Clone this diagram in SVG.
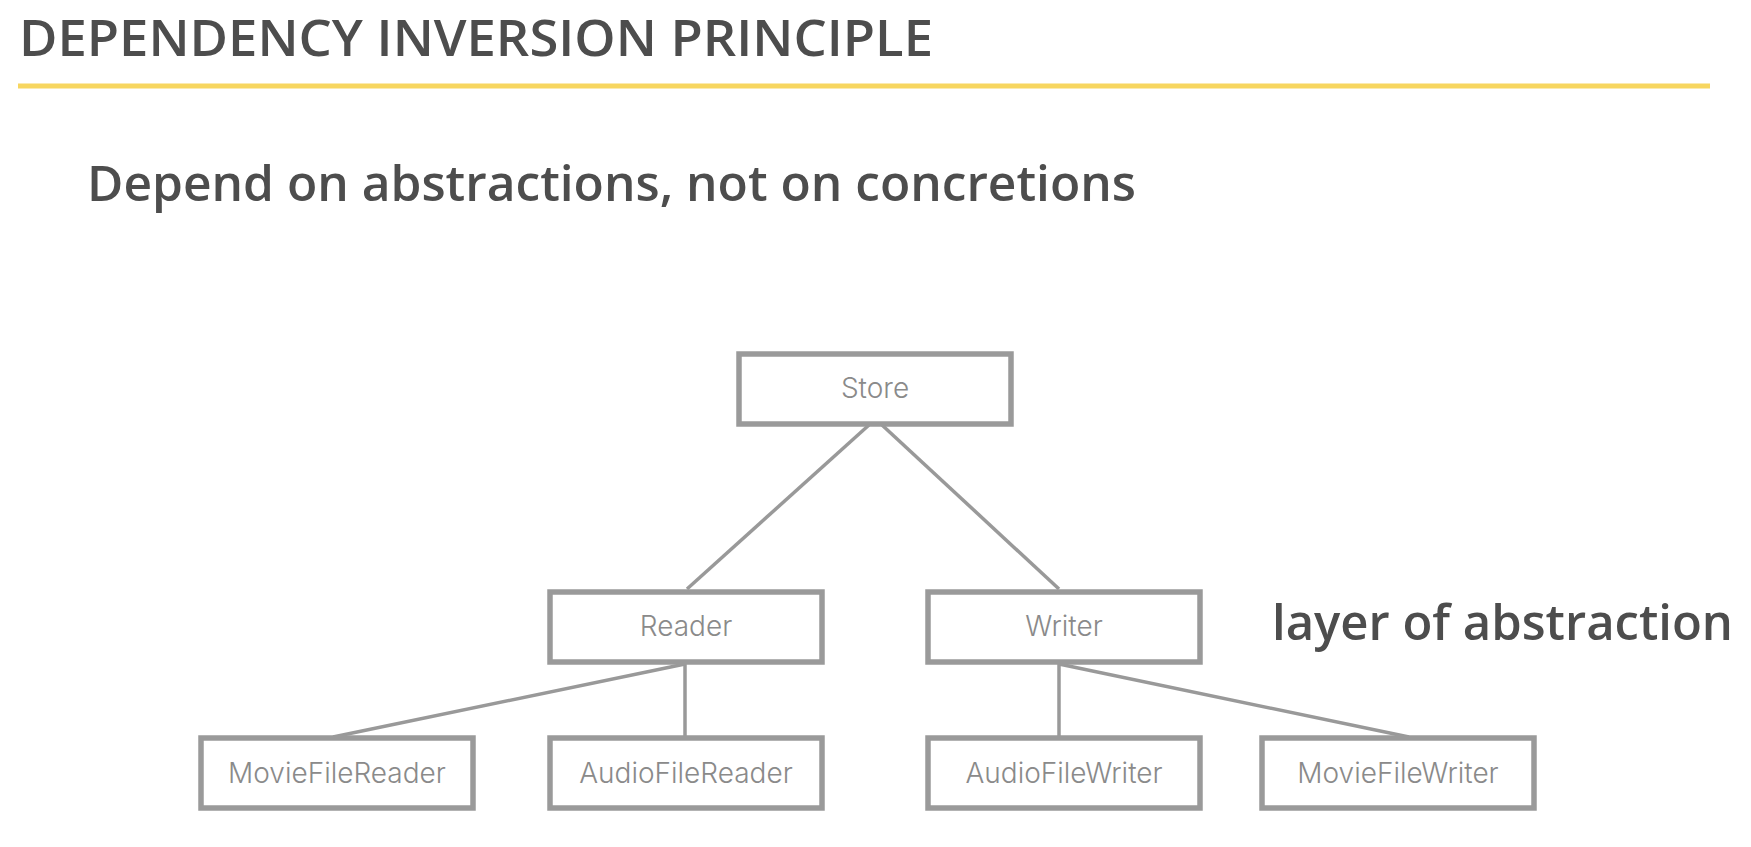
<svg xmlns="http://www.w3.org/2000/svg" width="1751" height="847" viewBox="0 0 1751 847">
<style>
.h{font-family:"Open Sans",Lato,"Liberation Sans",sans-serif;fill:#4d4d4d;font-weight:600}
.box{fill:#fff;stroke:#9a9a9a;stroke-width:5.5}
.lbl{font-family:Inter,Lato,"Liberation Sans",sans-serif;fill:#8a8a8a;font-size:28px;font-weight:300;text-anchor:middle}
.ln{stroke:#999;stroke-width:3.5;fill:none}
</style>
<rect width="1751" height="847" fill="#fff"/>
<text class="h" x="19" y="56" font-size="50" textLength="914" lengthAdjust="spacingAndGlyphs">DEPENDENCY INVERSION PRINCIPLE</text>
<line x1="18" y1="86" x2="1710" y2="86" stroke="#f7d660" stroke-width="5"/>
<text class="h" x="87" y="201" font-size="49" textLength="1049" lengthAdjust="spacingAndGlyphs">Depend on abstractions, not on concretions</text>
<text class="h" x="1272" y="640" font-size="49" textLength="461" lengthAdjust="spacingAndGlyphs">layer of abstraction</text>
<g id="connectors">
<line class="ln" x1="869" y1="425" x2="687" y2="589"/>
<line class="ln" x1="882" y1="425" x2="1059" y2="589"/>
<line class="ln" x1="685" y1="664" x2="333" y2="737"/>
<line class="ln" x1="685" y1="664" x2="685" y2="737"/>
<line class="ln" x1="1059" y1="664" x2="1059" y2="737"/>
<line class="ln" x1="1059" y1="664" x2="1409" y2="737"/>
</g>
<g id="store"><rect class="box" x="739" y="354" width="272" height="70"/><text class="lbl" x="875" y="398">Store</text></g>
<g id="reader"><rect class="box" x="550" y="592" width="272" height="70"/><text class="lbl" x="686" y="636">Reader</text></g>
<g id="writer"><rect class="box" x="928" y="592" width="272" height="70"/><text class="lbl" x="1064" y="636">Writer</text></g>
<g id="moviefilereader"><rect class="box" x="201" y="738" width="272" height="70"/><text class="lbl" x="337" y="783">MovieFileReader</text></g>
<g id="audiofilereader"><rect class="box" x="550" y="738" width="272" height="70"/><text class="lbl" x="686" y="783">AudioFileReader</text></g>
<g id="audiofilewriter"><rect class="box" x="928" y="738" width="272" height="70"/><text class="lbl" x="1064" y="783">AudioFileWriter</text></g>
<g id="moviefilewriter"><rect class="box" x="1262" y="738" width="272" height="70"/><text class="lbl" x="1398" y="783">MovieFileWriter</text></g>
</svg>
